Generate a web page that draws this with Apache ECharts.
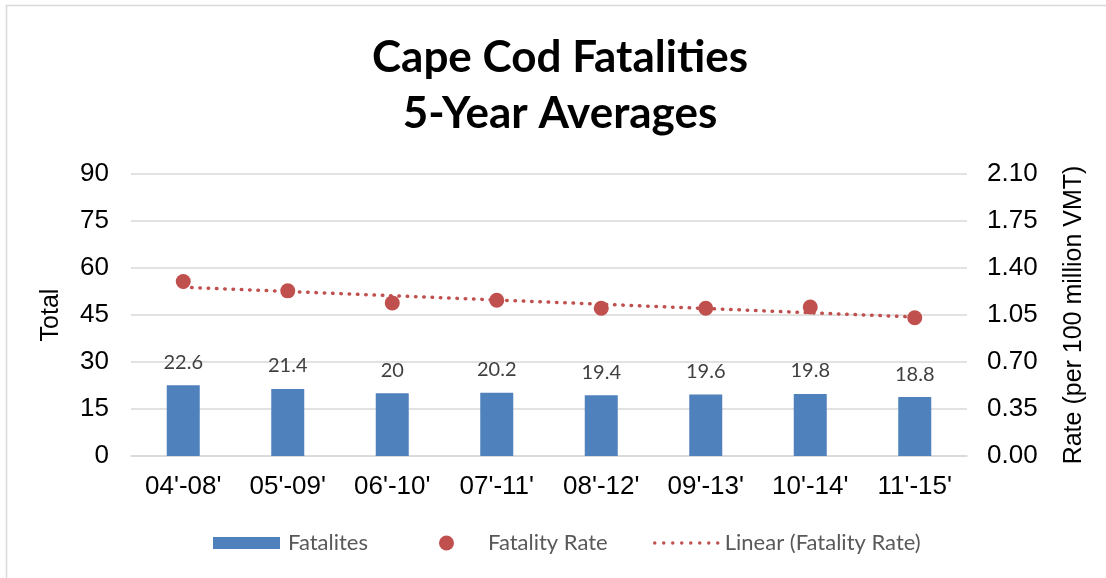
<!DOCTYPE html>
<html><head><meta charset="utf-8">
<script src="https://cdn.jsdelivr.net/npm/echarts@6/dist/echarts.min.js"></script>
<style>html,body{margin:0;padding:0;background:#fff}#c{width:1106px;height:578px}</style>
</head><body><div id="c"></div>
<script>
const categories = ["04'-08'", "05'-09'", "06'-10'", "07'-11'", "08'-12'", "09'-13'", "10'-14'", "11'-15'"];
const fatalities = [22.6, 21.4, 20, 20.2, 19.4, 19.6, 19.8, 18.8];
const fatalityRate = [1.30, 1.23, 1.14, 1.16, 1.10, 1.10, 1.11, 1.03];
const trendEnds = [1.257, 1.035];
const leftTicks = {min: 0, max: 90, interval: 15};
const rightTicks = {min: 0, max: 2.10, interval: 0.35};

const chart = echarts.init(document.getElementById('c'), null, {renderer: 'canvas'});
const arial = "'Liberation Sans', Arial, sans-serif";
let dots = '';
for (let i = 0; i < 8; i++) {
  const cx = 1.75 + i * 9;
  dots += 'M' + (cx - 1.75) + ',1.75 A1.75,1.75 0 1,1 ' + (cx + 1.75) + ',1.75 A1.75,1.75 0 1,1 ' + (cx - 1.75) + ',1.75 Z ';
}
chart.setOption({
  animation: false,
  backgroundColor: '#fff',
  graphic: [{type: 'rect', shape: {x: 6.5, y: 5.5, width: 1200, height: 700}, style: {fill: 'none', stroke: '#D9D9D9', lineWidth: 1.5}, silent: true}],
  title: {
    text: 'Cape Cod Fatalities\n5-Year Averages',
    left: 555, textAlign: 'center', top: 25,
    textStyle: {fontFamily: 'Lato', fontWeight: 'bold', fontSize: 44, lineHeight: 56, color: '#000'}
  },
  grid: {left: 131, right: 139, top: 174, bottom: 122},
  legend: [
    {data: ['Fatalites'], left: 208, top: 527, itemWidth: 67, itemHeight: 12, icon: 'rect',
     textStyle: {fontFamily: 'Lato', fontSize: 22, color: '#595959', padding: [0, 0, 0, 3]}},
    {data: ['Fatality Rate'], left: 434, top: 527, itemWidth: 15, itemHeight: 15, icon: 'circle',
     textStyle: {fontFamily: 'Lato', fontSize: 22, color: '#595959', padding: [0, 0, 0, 29]}},
    {data: [{name: 'Linear (Fatality Rate)', icon: 'path://' + dots}], left: 648, top: 527, itemWidth: 67, itemHeight: 3.5,
     textStyle: {fontFamily: 'Lato', fontSize: 22, color: '#595959', padding: [0, 0, 0, 0]}}
  ],
  xAxis: {
    type: 'category', data: categories,
    axisLine: {show: true, lineStyle: {color: '#D9D9D9', width: 1.5}},
    axisTick: {show: false},
    axisLabel: {fontFamily: arial, fontSize: 26, color: '#000', margin: 18}
  },
  yAxis: [
    {type: 'value', min: leftTicks.min, max: leftTicks.max, interval: leftTicks.interval,
     name: 'Total', nameLocation: 'middle', nameGap: 67, nameRotate: 90,
     nameTextStyle: {fontFamily: arial, fontSize: 25, color: '#000'},
     axisLine: {show: false}, axisTick: {show: false},
     axisLabel: {fontFamily: arial, fontSize: 26, color: '#000', margin: 22},
     splitLine: {lineStyle: {color: '#D9D9D9', width: 1.5}}},
    {type: 'value', min: rightTicks.min, max: rightTicks.max, interval: rightTicks.interval,
     name: 'Rate (per 100 million VMT)', nameLocation: 'middle', nameGap: 95, nameRotate: 90,
     nameTextStyle: {fontFamily: arial, fontSize: 25, color: '#000'},
     axisLine: {show: false}, axisTick: {show: false},
     axisLabel: {fontFamily: arial, fontSize: 26, color: '#000', margin: 20,
       formatter: v => v.toFixed(2)},
     splitLine: {show: false}}
  ],
  series: [
    {name: 'Fatalites', type: 'bar', data: fatalities, barWidth: 33, yAxisIndex: 0,
     itemStyle: {color: '#4F81BD'},
     label: {show: true, position: 'top', distance: 13, fontFamily: 'Lato', fontSize: 20, color: '#404040'}},
    {name: 'Linear (Fatality Rate)', type: 'line', yAxisIndex: 1, symbol: 'none',
     data: [[categories[0], trendEnds[0]], [categories[categories.length - 1], trendEnds[1]]],
     lineStyle: {color: '#C0504D', width: 3.5, type: [0.5, 7.8], cap: 'round'},
     itemStyle: {color: '#C0504D'}, z: 3},
    {name: 'Fatality Rate', type: 'scatter', yAxisIndex: 1, data: fatalityRate, symbol: 'circle',
     symbolSize: 15, itemStyle: {color: '#C0504D', opacity: 1}, z: 4}
  ]
});
</script></body></html>
